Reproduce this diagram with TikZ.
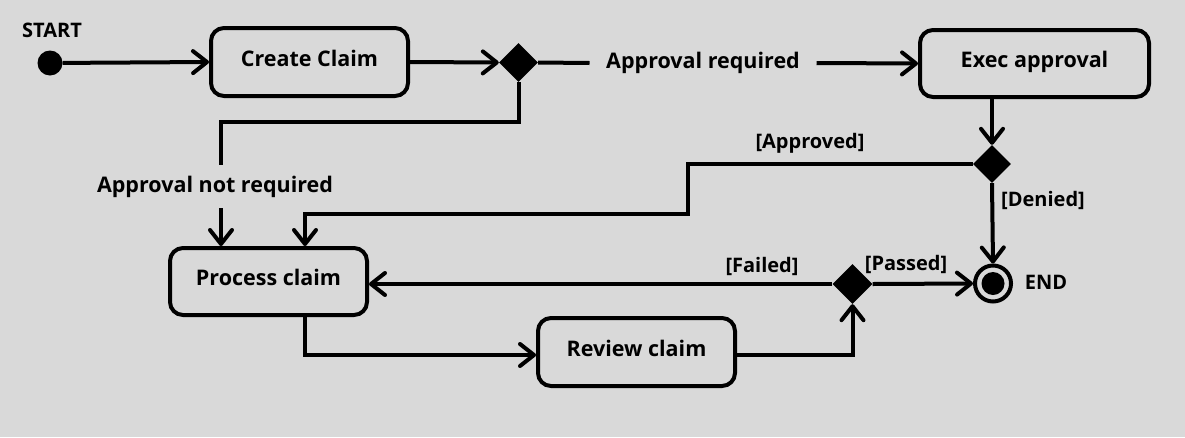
\documentclass[tikz,border=0pt]{standalone}
\usepackage{fontspec}
\setmainfont{Open Sans}
\usetikzlibrary{shapes.geometric,arrows.meta}
\definecolor{bg}{HTML}{D9D9D9}
\begin{document}
\begin{tikzpicture}[x=1pt,y=-1pt,
  every node/.style={font=\bfseries\fontsize{21.5}{24}\selectfont, text=black},
  act/.style={draw, line width=4pt, rounded corners=13pt, minimum width=197pt, minimum height=68pt, inner sep=0pt, text depth=8pt},
  dec/.style={diamond, fill=black, minimum size=39pt, inner sep=0pt, aspect=1},
  lbl/.style={font=\bfseries\fontsize{20}{22}\selectfont, inner sep=0pt},
  flow/.style={line width=4pt, -{Straight Barb[length=14pt,width=22pt,round]}},
  plain/.style={line width=4pt},
]
\fill[bg] (0,0) rectangle (1185,437);
\useasboundingbox (0,0) rectangle (1185,437);

% nodes
\node[circle, fill=black, minimum size=25pt, inner sep=0pt] (start) at (50,63) {};
\node[lbl] (startlbl) at (52,30) {START};
\node[act] (create) at (309.5,62) {Create Claim};
\node[dec] (d1) at (518.5,62.5) {};
\node[inner xsep=16.5pt, inner ysep=0pt] (lblreq) at (703,63) {Approval required};
\node[act, minimum width=229pt, minimum height=67pt] (exec) at (1034.5,63.5) {Exec approval};
\node[dec, minimum size=38pt] (d2) at (992,164) {};
\node[act, minimum height=67pt] (process) at (268.5,281.5) {Process claim};
\node[act] (review) at (636.5,352) {Review claim};
\node[dec, minimum size=40pt] (d3) at (852.5,284) {};
\node[circle, draw, line width=4pt, minimum size=36pt, inner sep=0pt] (end) at (993,283.5) {};
\node[circle, fill=black, minimum size=23pt, inner sep=0pt] (endin) at (end.center) {};
\node[lbl] (endlbl) at (1046,282) {END};

\node[inner sep=0pt] (lblnot) at (215,187) {Approval not required};
\node[lbl] (lblapp) at (810,143) {[Approved]};
\node[lbl] (lbldeny) at (1043,200) {[Denied]};
\node[lbl] (lblfail) at (762,266) {[Failed]};
\node[lbl] (lblpass) at (906,264) {[Passed]};

\coordinate (a1) at (221,165);
\coordinate (a2) at (221,208);
\coordinate (b1) at (688,214);
\coordinate (b2) at (305,0);

% connectors
\draw[flow] (start) -- (create.west);
\draw[flow] (create.east) -- (d1.west);
\draw[plain] (d1.east) -- (lblreq.west);
\draw[flow] (lblreq.east) -- (exec.west);
\draw[plain] (d1.south) -- ++(0,40) -| (a1);
\draw[flow] (a2) -- (a2 |- process.north);
\draw[flow] (exec.south -| d2.north) -- (d2.north);
\draw[flow] (d2.west) -| (b1) -| (process.north -| b2);
\draw[flow] (d2.south) -- (end.north);
\draw[flow] (d3.west) -- (d3.west -| process.east);
\draw[flow] (d3.east) -- (end.west);
\draw[flow] (process.south -| b2) |- ([yshift=-3pt]review.west);
\draw[flow] ([yshift=-3pt]review.east) -| (d3.south);
\end{tikzpicture}
\end{document}
